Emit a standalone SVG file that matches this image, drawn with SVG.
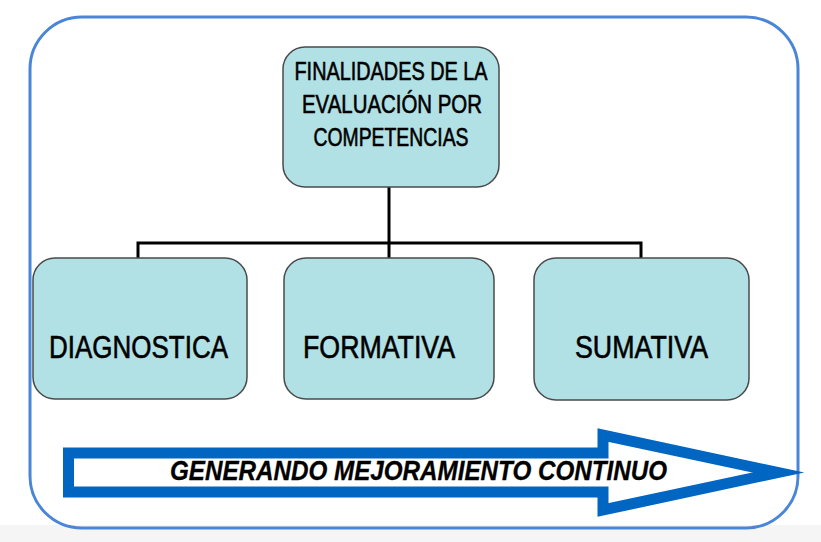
<svg xmlns="http://www.w3.org/2000/svg" width="821" height="542" viewBox="0 0 821 542">
  <style>
    .box { fill: #b1e1e5; stroke: #4a4a4a; stroke-width: 1.5; }
    .lbl { font-family: "Liberation Sans", Arial, sans-serif; fill: #000; stroke: #000; stroke-width: 0.6; }
    .conn { stroke: #000; stroke-width: 3; fill: none; }
  </style>
  <rect x="0" y="0" width="821" height="542" fill="#ffffff"/>
  <rect x="0" y="525" width="821" height="17" fill="#f5f5f5"/>
  <g id="frame">
    <rect x="30" y="17" width="768" height="511" rx="52" ry="52" fill="none" stroke="#4a86d8" stroke-width="3"/>
  </g>
  <g id="connectors">
    <path class="conn" d="M389,187 V243 M138,258 V243 H641 V258 M389,243 V258"/>
  </g>
  <g id="node-finalidades">
    <rect class="box" x="283" y="47" width="216" height="140" rx="22" ry="22"/>
    <text class="lbl" font-size="25" text-anchor="middle" x="391" y="80" textLength="193" lengthAdjust="spacingAndGlyphs">FINALIDADES DE LA</text>
    <text class="lbl" font-size="25" text-anchor="middle" x="392" y="113" textLength="180" lengthAdjust="spacingAndGlyphs">EVALUACIÓN POR</text>
    <text class="lbl" font-size="25" text-anchor="middle" x="391" y="146" textLength="155" lengthAdjust="spacingAndGlyphs">COMPETENCIAS</text>
  </g>
  <g id="node-diagnostica">
    <rect class="box" x="33" y="258" width="214" height="141" rx="22" ry="22"/>
    <text class="lbl" font-size="32" x="49" y="358" textLength="179" lengthAdjust="spacingAndGlyphs">DIAGNOSTICA</text>
  </g>
  <g id="node-formativa">
    <rect class="box" x="284" y="258" width="210" height="141" rx="22" ry="22"/>
    <text class="lbl" font-size="32" x="303" y="358" textLength="152" lengthAdjust="spacingAndGlyphs">FORMATIVA</text>
  </g>
  <g id="node-sumativa">
    <rect class="box" x="534" y="258" width="215" height="142" rx="22" ry="22"/>
    <text class="lbl" font-size="32" x="575" y="358" textLength="133" lengthAdjust="spacingAndGlyphs">SUMATIVA</text>
  </g>
  <g id="arrow">
    <polygon points="68.5,453 603,453 603,435 778,472.5 603,510 603,492 68.5,492" fill="#ffffff" stroke="#0066c2" stroke-width="11" stroke-linejoin="miter" stroke-miterlimit="10"/>
    <text font-family="Liberation Sans, Arial, sans-serif" font-size="27" font-weight="bold" font-style="italic" fill="#000" stroke="#000" stroke-width="0.3" x="170" y="480" textLength="497" lengthAdjust="spacingAndGlyphs">GENERANDO MEJORAMIENTO CONTINUO</text>
  </g>
</svg>
